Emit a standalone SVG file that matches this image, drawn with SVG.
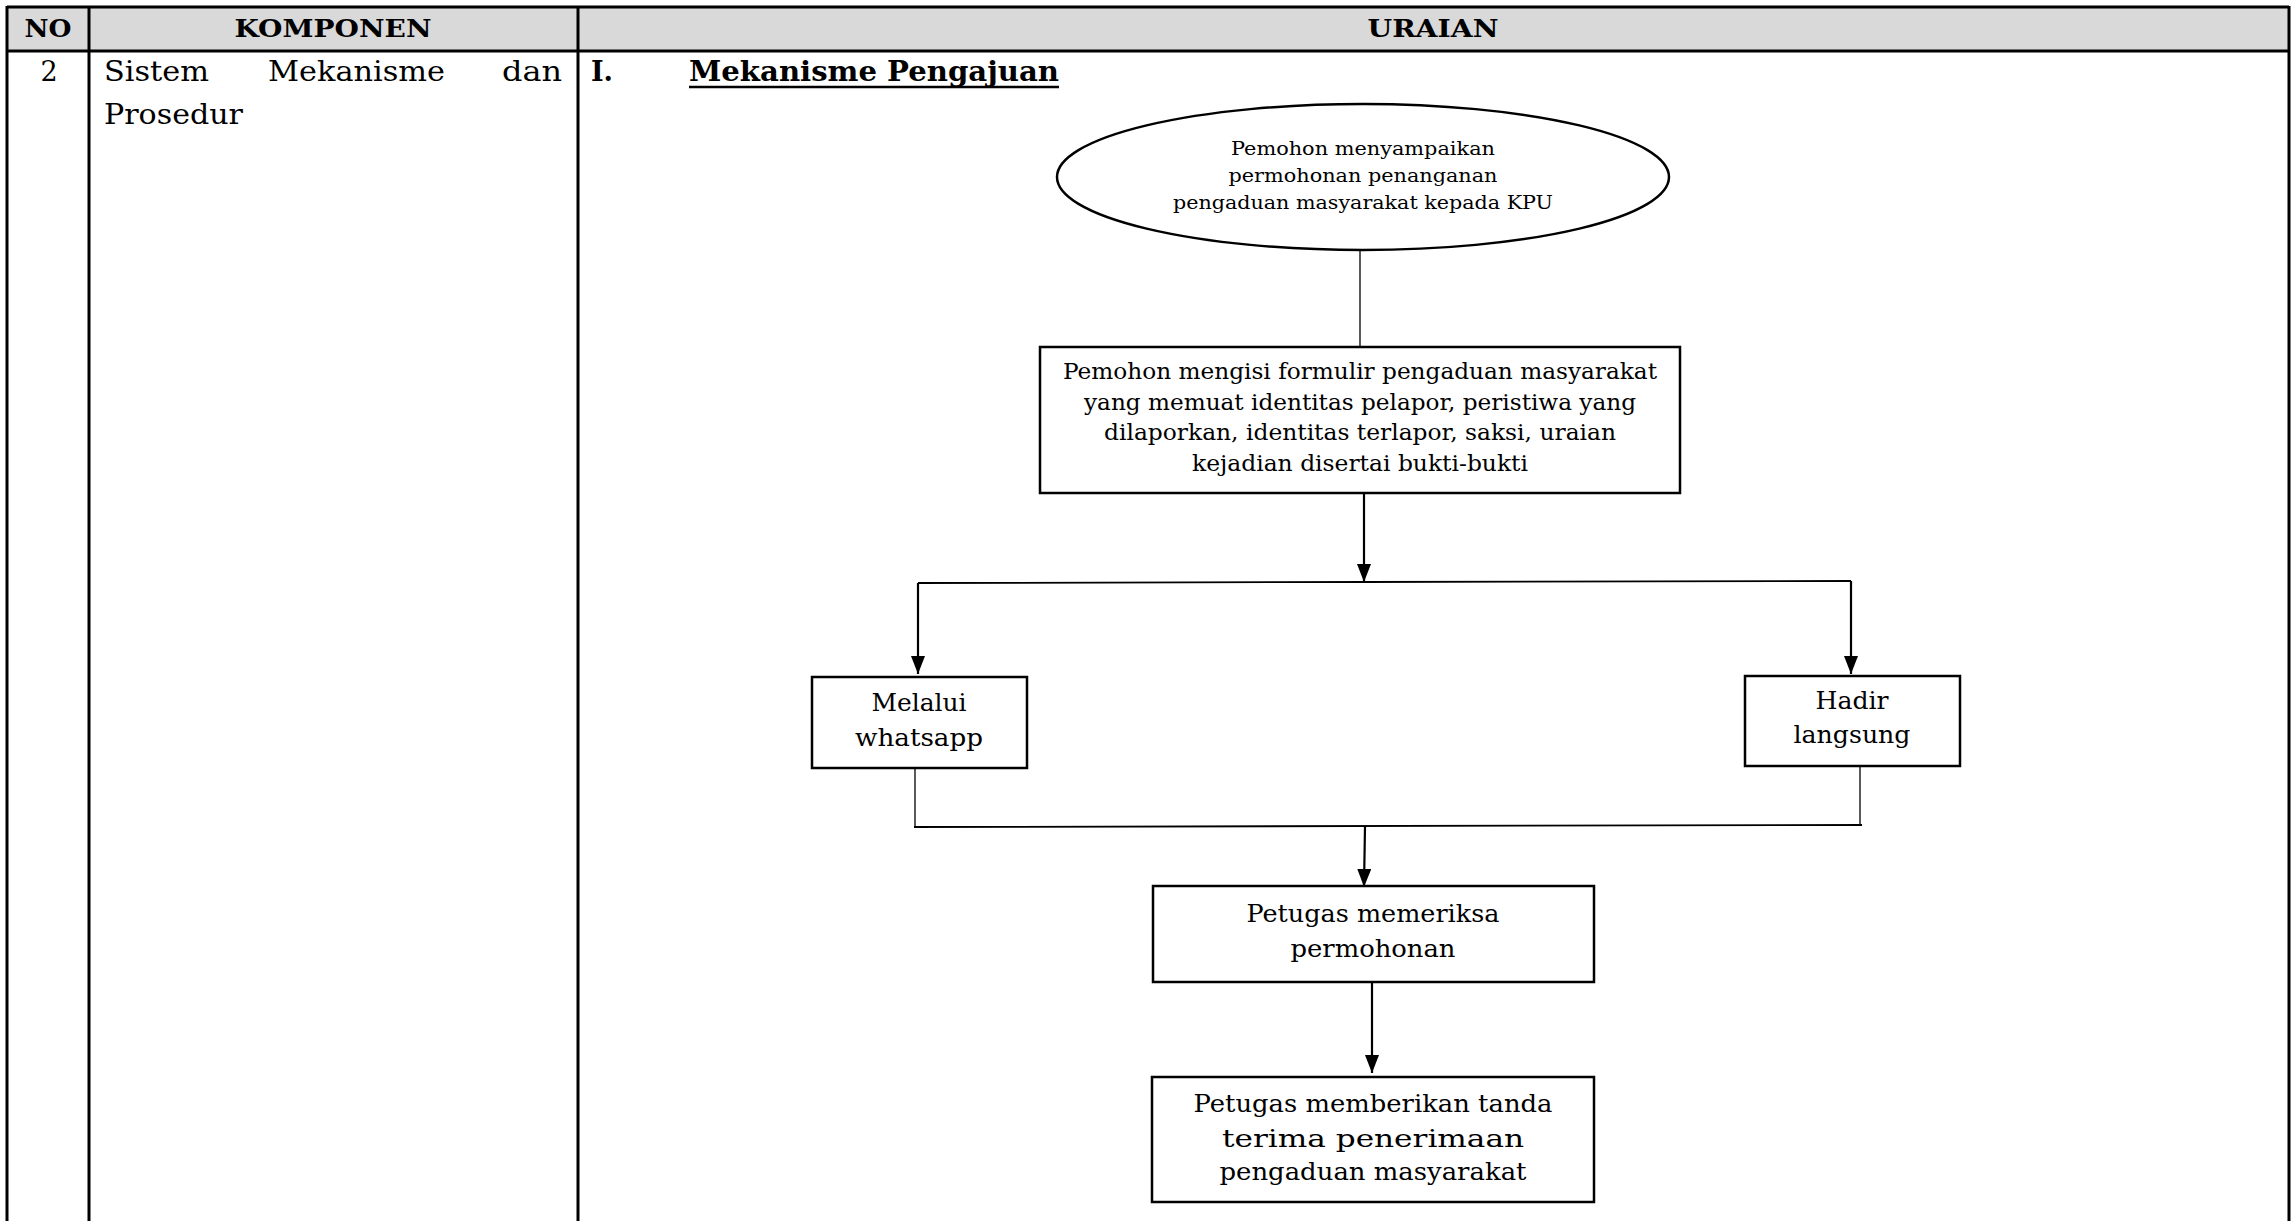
<svg xmlns="http://www.w3.org/2000/svg" width="2293" height="1221" viewBox="0 0 2293 1221">
<defs>
<style>
text{font-family:"DejaVu Serif","Liberation Serif",serif;fill:#000}
.h{font-weight:bold;font-size:25px;text-anchor:middle}
.r{font-size:27px}
.b{font-weight:bold;font-size:27px}
.e{font-size:19px;text-anchor:middle}
.t1{font-size:22px;text-anchor:middle}
.t2{font-size:24px;text-anchor:middle}
.box{fill:#fff;stroke:#000;stroke-width:2.5}
.grid{stroke:#000;stroke-width:3;fill:none}
.thin{stroke:#000;stroke-width:1.3;fill:none}
.arr{stroke:#000;stroke-width:2.2;fill:none;marker-end:url(#ah)}
</style>
<marker id="ah" viewBox="0 0 18 14" refX="18" refY="7" markerWidth="18" markerHeight="14" markerUnits="userSpaceOnUse" orient="auto">
<path d="M0,0 L18,7 L0,14 z" fill="#000"/>
</marker>
</defs>
<rect width="2293" height="1221" fill="#fff"/>
<g id="table">
<rect x="7" y="7" width="2282" height="44" fill="#d9d9d9"/>
<line class="grid" x1="7" y1="7" x2="2289" y2="7"/>
<line class="grid" x1="7" y1="51" x2="2289" y2="51"/>
<line class="grid" x1="7" y1="6" x2="7" y2="1221"/>
<line class="grid" x1="89" y1="6" x2="89" y2="1221"/>
<line class="grid" x1="578" y1="6" x2="578" y2="1221"/>
<line class="grid" x1="2289" y1="6" x2="2289" y2="1221"/>
<text class="h" x="48" y="37" textLength="47" lengthAdjust="spacingAndGlyphs">NO</text>
<text class="h" x="333" y="37" textLength="197" lengthAdjust="spacingAndGlyphs">KOMPONEN</text>
<text class="h" x="1433" y="37" textLength="131" lengthAdjust="spacingAndGlyphs">URAIAN</text>
<text class="r" x="49" y="81" text-anchor="middle">2</text>
<text class="r" x="104" y="81" textLength="105" lengthAdjust="spacingAndGlyphs">Sistem</text>
<text class="r" x="268" y="81" textLength="177" lengthAdjust="spacingAndGlyphs">Mekanisme</text>
<text class="r" x="502" y="81" textLength="60" lengthAdjust="spacingAndGlyphs">dan</text>
<text class="r" x="104" y="124" textLength="139" lengthAdjust="spacingAndGlyphs">Prosedur</text>
<text class="b" x="591" y="81" textLength="22" lengthAdjust="spacingAndGlyphs">I.</text>
<text class="b" x="689" y="81" textLength="370" lengthAdjust="spacingAndGlyphs">Mekanisme Pengajuan</text>
<line x1="689" y1="87" x2="1059" y2="87" stroke="#000" stroke-width="2.5"/>
</g>
<g id="connectors">
<line class="thin" x1="1360" y1="250" x2="1360" y2="347"/>
<line class="arr" x1="1364" y1="493" x2="1364" y2="582"/>
<polyline class="thin" style="stroke-width:1.8" points="918,583 1364,582 1851,581"/>
<line class="arr" x1="918" y1="583" x2="918" y2="674"/>
<line class="arr" x1="1851" y1="581" x2="1851" y2="674"/>
<line class="thin" x1="915" y1="768" x2="915" y2="827"/>
<line class="thin" x1="1860" y1="766" x2="1860" y2="825"/>
<line class="thin" style="stroke-width:1.8" x1="914" y1="827" x2="1862" y2="825"/>
<line class="arr" x1="1365" y1="826" x2="1364" y2="887"/>
<line class="arr" x1="1372" y1="981" x2="1372" y2="1073"/>
</g>
<g id="n1">
<ellipse cx="1363" cy="177" rx="306" ry="73" fill="#fff" stroke="#000" stroke-width="2.5"/>
<text class="e" x="1363" y="155" textLength="264" lengthAdjust="spacingAndGlyphs">Pemohon menyampaikan</text>
<text class="e" x="1363" y="182" textLength="269" lengthAdjust="spacingAndGlyphs">permohonan penanganan</text>
<text class="e" x="1363" y="209" textLength="380" lengthAdjust="spacingAndGlyphs">pengaduan masyarakat kepada KPU</text>
</g>
<g id="n2">
<rect class="box" x="1040" y="347" width="640" height="146"/>
<text class="t1" x="1360" y="379" textLength="594" lengthAdjust="spacingAndGlyphs">Pemohon mengisi formulir pengaduan masyarakat</text>
<text class="t1" x="1360" y="410" textLength="552" lengthAdjust="spacingAndGlyphs">yang memuat identitas pelapor, peristiwa yang</text>
<text class="t1" x="1360" y="440" textLength="512" lengthAdjust="spacingAndGlyphs">dilaporkan, identitas terlapor, saksi, uraian</text>
<text class="t1" x="1360" y="471" textLength="336" lengthAdjust="spacingAndGlyphs">kejadian disertai bukti-bukti</text>
</g>
<g id="n3">
<rect class="box" x="812" y="677" width="215" height="91"/>
<text class="t2" x="919" y="711" textLength="95" lengthAdjust="spacingAndGlyphs">Melalui</text>
<text class="t2" x="919" y="746" textLength="128" lengthAdjust="spacingAndGlyphs">whatsapp</text>
</g>
<g id="n4">
<rect class="box" x="1745" y="676" width="215" height="90"/>
<text class="t2" x="1852" y="709" textLength="73" lengthAdjust="spacingAndGlyphs">Hadir</text>
<text class="t2" x="1852" y="743" textLength="117" lengthAdjust="spacingAndGlyphs">langsung</text>
</g>
<g id="n5">
<rect class="box" x="1153" y="886" width="441" height="96"/>
<text class="t2" x="1373" y="922" textLength="253" lengthAdjust="spacingAndGlyphs">Petugas memeriksa</text>
<text class="t2" x="1373" y="957" textLength="165" lengthAdjust="spacingAndGlyphs">permohonan</text>
</g>
<g id="n6">
<rect class="box" x="1152" y="1077" width="442" height="125"/>
<text class="t2" x="1373" y="1112" textLength="359" lengthAdjust="spacingAndGlyphs">Petugas memberikan tanda</text>
<text class="t2" x="1373" y="1147" textLength="302" lengthAdjust="spacingAndGlyphs">terima penerimaan</text>
<text class="t2" x="1373" y="1180" textLength="307" lengthAdjust="spacingAndGlyphs">pengaduan masyarakat</text>
</g>
</svg>
